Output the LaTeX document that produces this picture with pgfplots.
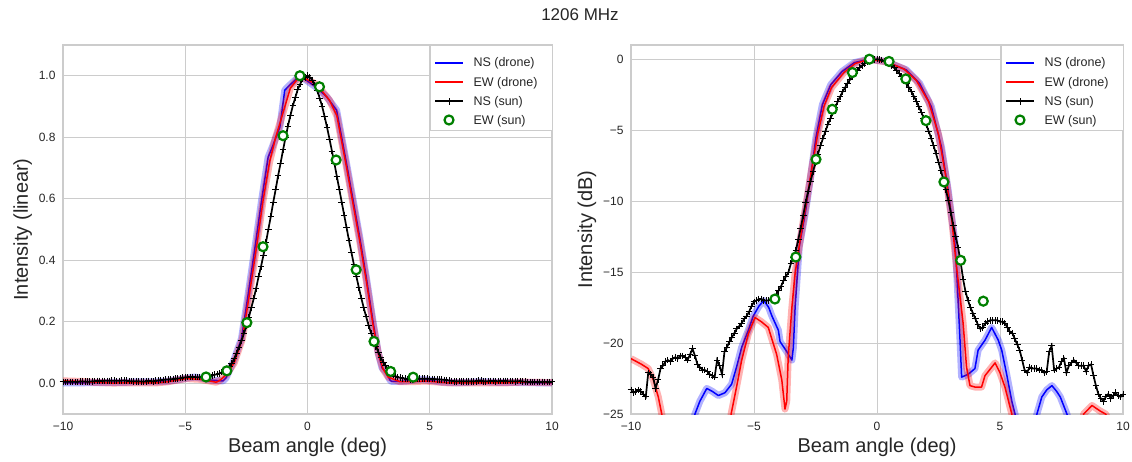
\documentclass[border=0pt]{standalone}
\usepackage{fontspec}
\setmainfont{Liberation Sans}
\usepackage{pgfplots}
\usepackage{pgfplotstable}
\pgfplotsset{compat=1.18}

\definecolor{gridgray}{HTML}{CCCCCC}
\definecolor{ticktext}{HTML}{262626}
\definecolor{sungreen}{HTML}{008000}
\definecolor{nsblue}{HTML}{0000FF}
\definecolor{ewred}{HTML}{FF0000}

% NS drone, dB panel
\pgfplotstableread{
x db
-10 -31
-8.0 -29
-7.6 -26.5
-7.4 -25
-7.2 -24.1
-6.92 -23.2
-6.7 -23.4
-6.45 -23.7
-6.18 -23.5
-5.91 -22.9
-5.71 -21.7
-5.50 -20.3
-5.23 -19.1
-5.03 -18.1
-4.8 -17.4
-4.6 -17.0
-4.4 -17.5
-4.28 -18.06
-4.01 -19.1
-3.94 -19.9
-3.67 -20.6
-3.46 -21.2
-3.40 -20.3
-3.33 -17.5
-3.16 -13.2
-2.92 -10.9
-2.70 -8.3
-2.48 -5.5
-2.22 -3.2
-1.88 -1.8
-1.42 -0.87
-0.92 -0.24
-0.31 0
0.37 -0.17
1.19 -0.75
1.73 -1.7
2.21 -3.35
2.62 -6.2
2.89 -9.2
3.16 -12.8
3.23 -14.6
3.37 -19.6
3.44 -22.4
3.71 -22.2
3.98 -21.8
4.11 -20.5
4.39 -19.8
4.66 -18.9
4.93 -19.8
5.07 -20.5
5.27 -22.2
5.48 -24.1
5.61 -25
5.8 -27
6.1 -28
6.3 -26.5
6.50 -25
6.70 -23.8
6.9 -23.3
7.11 -23.0
7.3 -23.4
7.45 -23.8
7.72 -25
8.0 -27
9.0 -29
10 -30
}\nsdrone

% NS drone, linear panel
\pgfplotstableread{
x lin
-10 0.0008
-7.4 0.0032
-6.92 0.0048
-6.18 0.0045
-5.71 0.0068
-5.23 0.0123
-4.8 0.0182
-4.6 0.0200
-4.28 0.0156
-3.94 0.0102
-3.46 0.0076
-3.33 0.0178
-3.04 0.069
-2.70 0.145
-2.43 0.287
-2.15 0.44
-1.88 0.593
-1.61 0.735
-1.47 0.762
-1.13 0.833
-0.93 0.953
-0.72 0.97
-0.31 1.0
0.37 0.962
0.8 0.93
1.19 0.888
1.6 0.713
1.87 0.593
2.14 0.473
2.41 0.342
2.68 0.20
2.89 0.10
3.05 0.05
3.23 0.0347
3.37 0.0110
3.44 0.0058
3.98 0.0066
4.39 0.0105
4.66 0.0129
5.07 0.0089
5.48 0.0039
6.1 0.0016
7.11 0.0050
7.72 0.0032
10 0.0010
}\nsdronelin

% EW drone, dB panel
\pgfplotstableread{
x db
-10 -21.1
-9.57 -21.5
-9.3 -21.8
-9.09 -22.6
-8.89 -23.8
-8.75 -25
-8.5 -28
-8.0 -31
-7.0 -33
-6.2 -30
-5.93 -25
-5.71 -23.1
-5.50 -21.2
-5.23 -19.35
-4.96 -18.2
-4.7 -18.5
-4.42 -18.9
-4.08 -20.8
-3.87 -22.6
-3.74 -24.65
-3.67 -24.1
-3.61 -21.0
-3.46 -17.5
-3.33 -15.1
-3.13 -12.8
-2.92 -10.6
-2.66 -7.8
-2.40 -5.2
-2.15 -3.3
-1.85 -2.0
-1.35 -0.95
-0.88 -0.3
-0.3 0
0.4 -0.2
1.1 -0.7
1.6 -1.5
2.1 -3.0
2.5 -5.3
2.8 -8.3
3.05 -11.5
3.23 -14.6
3.50 -18.6
3.64 -21.7
3.78 -23.0
3.98 -23.1
4.25 -23.1
4.39 -22.3
4.80 -21.4
5.0 -22.1
5.2 -23.1
5.48 -25
5.8 -30
7.0 -33
8.2 -28
8.40 -25
8.74 -24.4
9.08 -24.8
9.29 -25
9.6 -26
10 -27
}\ewdrone

% EW drone, linear panel
\pgfplotstableread{
x lin
-10 0.0078
-9.09 0.0055
-8.75 0.0032
-8.0 0.0008
-6.2 0.0010
-5.71 0.0049
-5.23 0.0116
-4.96 0.0151
-4.42 0.0129
-3.87 0.0055
-3.74 0.0034
-3.61 0.0079
-3.46 0.0178
-3.3 0.030
-3.0 0.066
-2.66 0.145
-2.38 0.287
-2.09 0.44
-1.82 0.593
-1.55 0.72
-1.3 0.80
-1.0 0.88
-0.7 0.96
-0.3 1.0
0.4 0.97
0.9 0.92
1.2 0.87
1.6 0.70
1.87 0.58
2.14 0.46
2.41 0.33
2.68 0.19
2.9 0.095
3.1 0.045
3.3 0.02
3.50 0.0138
3.78 0.0050
4.25 0.0049
4.80 0.0072
5.2 0.0049
5.8 0.0010
8.2 0.0016
8.74 0.0036
10 0.0020
}\ewdronelin

% NS sun
\pgfplotstableread{
x db lin
-10.0 -23.3 0.0047
-9.9 -23.5 0.0045
-9.8 -23.4 0.0046
-9.7 -23.3 0.0047
-9.6 -23.4 0.0046
-9.5 -23.6 0.0044
-9.4 -23.8 0.0042
-9.3 -22.1 0.0062
-9.2 -22.2 0.0060
-9.1 -22.4 0.0058
-9.0 -23.2 0.0048
-8.9 -22.6 0.0055
-8.8 -21.8 0.0066
-8.7 -21.6 0.0069
-8.6 -21.3 0.0074
-8.5 -21.2 0.0076
-8.4 -21.3 0.0074
-8.3 -21.1 0.0078
-8.2 -21.0 0.0079
-8.1 -21.1 0.0078
-8.0 -20.9 0.0081
-7.9 -20.9 0.0081
-7.8 -21.0 0.0079
-7.7 -21.2 0.0076
-7.6 -20.8 0.0083
-7.5 -20.4 0.0091
-7.4 -20.9 0.0081
-7.3 -21.5 0.0071
-7.2 -21.7 0.0068
-7.1 -21.9 0.0065
-7.0 -21.9 0.0065
-6.9 -22.0 0.0063
-6.8 -22.2 0.0060
-6.7 -22.3 0.0059
-6.6 -22.4 0.0058
-6.5 -21.2 0.0076
-6.4 -21.6 0.0069
-6.3 -22.2 0.0060
-6.2 -20.6 0.0087
-6.1 -20.3 0.0093
-6.0 -19.9 0.0102
-5.9 -19.6 0.0110
-5.8 -19.3 0.0117
-5.7 -19.0 0.0126
-5.6 -18.8 0.0132
-5.5 -18.6 0.0138
-5.4 -18.3 0.0148
-5.3 -18.1 0.0155
-5.2 -17.8 0.0166
-5.1 -17.4 0.0182
-5.0 -17.1 0.0195
-4.9 -17.0 0.0200
-4.8 -16.9 0.0204
-4.7 -16.9 0.0204
-4.6 -17.0 0.0200
-4.5 -17.0 0.0200
-4.4 -17.0 0.0200
-4.3 -16.9 0.0204
-4.2 -16.8 0.0209
-4.1 -16.6 0.0219
-4.0 -16.3 0.0234
-3.9 -16.0 0.0251
-3.8 -15.6 0.0275
-3.7 -15.3 0.0295
-3.6 -15.0 0.0316
-3.5 -14.4 0.0363
-3.4 -14.0 0.0398
-3.3 -13.5 0.0447
-3.2 -12.7 0.0537
-3.1 -11.9 0.0646
-3.0 -11.0 0.0794
-2.9 -10.1 0.0977
-2.8 -9.3 0.1175
-2.7 -8.6 0.138
-2.6 -7.9 0.162
-2.5 -7.3 0.186
-2.4 -6.7 0.214
-2.3 -6.1 0.245
-2.2 -5.6 0.275
-2.1 -5.1 0.309
-2.0 -4.6 0.347
-1.9 -4.2 0.380
-1.8 -3.8 0.417
-1.7 -3.4 0.457
-1.6 -3.0 0.501
-1.5 -2.65 0.543
-1.4 -2.3 0.589
-1.3 -2.0 0.631
-1.2 -1.7 0.676
-1.1 -1.45 0.716
-1.0 -1.2 0.759
-0.9 -0.98 0.798
-0.8 -0.78 0.836
-0.7 -0.6 0.871
-0.6 -0.45 0.902
-0.5 -0.32 0.929
-0.4 -0.2 0.955
-0.3 -0.12 0.973
-0.2 -0.05 0.989
-0.1 -0.02 0.995
0.0 0 1.0
0.1 -0.02 0.995
0.2 -0.06 0.986
0.3 -0.13 0.970
0.4 -0.22 0.951
0.5 -0.33 0.927
0.6 -0.46 0.900
0.7 -0.62 0.867
0.8 -0.8 0.832
0.9 -1.0 0.794
1.0 -1.22 0.755
1.1 -1.46 0.715
1.2 -1.72 0.673
1.3 -2.0 0.631
1.4 -2.3 0.589
1.5 -2.62 0.547
1.6 -2.97 0.505
1.7 -3.34 0.463
1.8 -3.73 0.424
1.9 -4.15 0.385
2.0 -4.6 0.347
2.1 -5.07 0.311
2.2 -5.57 0.277
2.3 -6.1 0.245
2.4 -6.66 0.216
2.5 -7.25 0.188
2.6 -7.87 0.163
2.7 -8.52 0.141
2.8 -9.2 0.120
2.9 -9.95 0.101
3.0 -10.8 0.0832
3.1 -11.7 0.0676
3.2 -12.5 0.0562
3.3 -13.3 0.0468
3.4 -14.3 0.0372
3.5 -15.5 0.0282
3.6 -16.4 0.0229
3.7 -17.0 0.0200
3.8 -17.5 0.0178
3.9 -17.9 0.0162
4.0 -18.3 0.0148
4.1 -18.7 0.0135
4.2 -19.0 0.0126
4.3 -18.9 0.0129
4.4 -18.6 0.0138
4.5 -18.5 0.0141
4.6 -18.4 0.0145
4.7 -18.4 0.0145
4.8 -18.4 0.0145
4.9 -18.4 0.0145
5.0 -18.5 0.0141
5.1 -18.5 0.0141
5.2 -18.6 0.0138
5.3 -18.9 0.0129
5.4 -19.2 0.0120
5.5 -19.3 0.0117
5.6 -19.7 0.0107
5.7 -20.1 0.0098
5.8 -20.5 0.0089
5.9 -21.2 0.0076
6.0 -21.9 0.0065
6.1 -22.1 0.0062
6.2 -21.7 0.0068
6.3 -21.8 0.0066
6.4 -21.8 0.0066
6.5 -21.8 0.0066
6.6 -21.9 0.0065
6.7 -21.9 0.0065
6.8 -22.1 0.0062
6.9 -22.0 0.0063
7.0 -20.6 0.0087
7.1 -20.2 0.0095
7.2 -21.9 0.0065
7.3 -21.8 0.0066
7.4 -21.7 0.0068
7.5 -21.3 0.0074
7.6 -21.1 0.0078
7.7 -22.1 0.0062
7.8 -21.6 0.0069
7.9 -21.4 0.0072
8.0 -21.2 0.0076
8.1 -21.4 0.0072
8.2 -21.6 0.0069
8.3 -21.6 0.0069
8.4 -21.6 0.0069
8.5 -22.0 0.0063
8.6 -21.6 0.0069
8.7 -21.5 0.0071
8.8 -22.3 0.0059
8.9 -23.0 0.0050
9.0 -23.6 0.0044
9.1 -23.9 0.0041
9.2 -24.1 0.0039
9.3 -23.8 0.0042
9.4 -23.6 0.0044
9.5 -23.9 0.0041
9.6 -23.7 0.0043
9.7 -23.5 0.0045
9.8 -23.7 0.0043
9.9 -23.8 0.0042
10.0 -23.6 0.0044
}\nssun

% EW sun
\pgfplotstableread{
x db lin
-4.15 -16.9 0.0204
-3.30 -13.94 0.0404
-2.48 -7.06 0.197
-1.82 -3.53 0.444
-1.00 -0.94 0.805
-0.31 0 1.0
0.49 -0.16 0.964
1.17 -1.39 0.726
1.99 -4.33 0.369
2.72 -8.65 0.136
3.40 -14.17 0.0383
4.32 -17.05 0.0197
}\ewsun

\pgfplotsset{
  beam/.style={
    scale only axis, height=369pt,
    xmin=-10, xmax=10,
    xtick={-10,-5,0,5,10},
    xticklabels={−10,−5,0,5,10},
    grid=major,
    major grid style={gridgray, line width=0.9pt},
    axis line style={gridgray, line width=1.1pt},
    major tick length=0pt,
    tick label style={font=\fontsize{12}{14}\selectfont, text=ticktext},
    xticklabel style={yshift=-5pt},
    yticklabel style={xshift=-4pt},
    label style={font=\fontsize{20}{24}\selectfont, text=ticktext},
    xlabel={Beam angle (deg)},
  },
  band/.style={line width=7pt, opacity=0.3, line join=round},
  dline/.style={line width=1.5pt, line join=round},
  sun/.style={black, line width=1.7pt, mark=+, mark size=3.3pt,
    mark options={line width=1pt}},
  circ/.style={only marks, mark=*, mark size=4.5pt,
    mark options={draw=sungreen, fill=white, line width=2.2pt}},
}

% legend box, drawn at the top right corner of an axis box (x of its right edge)
\newcommand{\beamkey}[1]{%
  \begin{scope}[shift={(#1-552pt,0pt)}]
    \draw[gridgray, line width=0.8pt, fill=white] (430pt,331pt) rectangle (552pt,415.5pt);
    \draw[nsblue, line width=2pt] (435pt,398.3pt) -- (463pt,398.3pt);
    \draw[ewred, line width=2pt] (435pt,378.7pt) -- (463pt,378.7pt);
    \draw[black, line width=1.7pt] (435pt,359.7pt) -- (463pt,359.7pt);
    \draw[black, line width=1pt] (449pt,356.4pt) -- (449pt,363pt);
    \draw[sungreen, fill=white, line width=2.2pt] (449pt,341pt) circle (4.5pt);
    \begin{scope}[every node/.style={anchor=base west, text=ticktext,
        font=\fontsize{12.5}{15}\selectfont}]
      \node at (470pt,394pt) {NS (drone)};
      \node at (470pt,374.4pt) {EW (drone)};
      \node at (470pt,355.4pt) {NS (sun)};
      \node at (470pt,336.7pt) {EW (sun)};
    \end{scope}
  \end{scope}}

\begin{document}
\begin{tikzpicture}
\useasboundingbox (0,0) rectangle (1132pt,461pt);

\begin{axis}[beam, at={(63pt,47pt)}, anchor=south west, width=489pt,
  ymin=-0.1, ymax=1.1,
  ytick={0,0.2,0.4,0.6,0.8,1.0},
  yticklabels={0.0,0.2,0.4,0.6,0.8,1.0},
  ylabel={Intensity (linear)}]
\addplot[nsblue, band] table[x=x, y=lin] {\nsdronelin};
\addplot[nsblue, dline] table[x=x, y=lin] {\nsdronelin};
\addplot[ewred, band] table[x=x, y=lin] {\ewdronelin};
\addplot[ewred, dline] table[x=x, y=lin] {\ewdronelin};
\addplot[sun] table[x=x, y=lin] {\nssun};
\addplot[circ] table[x=x, y=lin] {\ewsun};
\end{axis}

\begin{axis}[beam, at={(631pt,47pt)}, anchor=south west, width=492pt,
  ymin=-25, ymax=1,
  ytick={-25,-20,-15,-10,-5,0},
  yticklabels={−25,−20,−15,−10,−5,0},
  ylabel={Intensity (dB)}]
\addplot[nsblue, band] table[x=x, y=db] {\nsdrone};
\addplot[nsblue, dline] table[x=x, y=db] {\nsdrone};
\addplot[ewred, band] table[x=x, y=db] {\ewdrone};
\addplot[ewred, dline] table[x=x, y=db] {\ewdrone};
\addplot[sun] table[x=x, y=db] {\nssun};
\addplot[circ] table[x=x, y=db] {\ewsun};
\end{axis}

\beamkey{552pt}
\beamkey{1123pt}

\node[font=\fontsize{17}{20}\selectfont, text=ticktext] at (580pt,446pt) {1206 MHz};
\end{tikzpicture}
\end{document}
